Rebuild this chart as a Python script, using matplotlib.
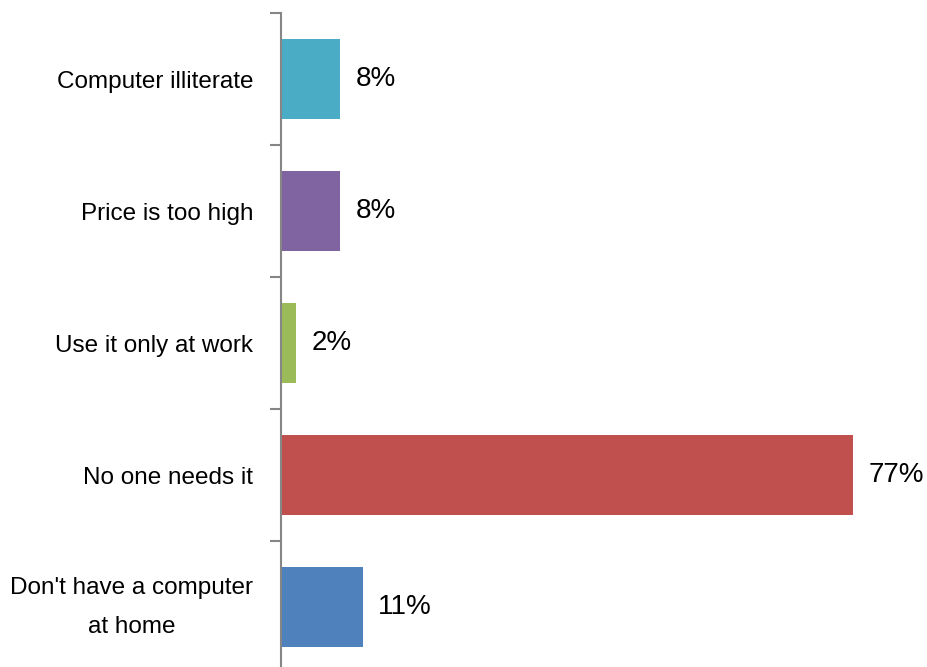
import matplotlib
matplotlib.use("Agg")
import matplotlib.pyplot as plt
from matplotlib import font_manager

# 窄体字优先，缺失时退回
names = {f.name for f in font_manager.fontManager.ttflist}
family = "Liberation Sans Narrow" if "Liberation Sans Narrow" in names else "Liberation Sans"
plt.rcParams["font.family"] = [family, "DejaVu Sans"]

categories = ["Computer illiterate", "Price is too high", "Use it only at work",
              "No one needs it", "Don't have a computer\nat home"]
values = [8, 8, 2, 77, 11]
labels = ["8%", "8%", "2%", "77%", "11%"]
colors = ["#4BACC6", "#8064A2", "#9BBB59", "#C0504D", "#4F81BD"]

fig = plt.figure(figsize=(9.28, 6.67), dpi=100)
ax = fig.add_axes([0.3028, -0.009, 0.6805, 0.9895])

pos = range(len(categories))
ax.barh(pos, values, height=0.6, color=colors)
for p, v, t in zip(pos, values, labels):
    ax.text(v + 2.1, p, t, va="center", ha="left", fontsize=20, color="black")

ax.set_xlim(0, 85)
ax.set_ylim(4.5, -0.5)
ax.set_yticks(list(pos))
ax.set_yticklabels(categories, fontsize=17.5, multialignment="center", linespacing=2.0)
for lab in ax.get_yticklabels():
    if "\n" in lab.get_text():
        lab.set_va("center")
ax.set_yticks([i - 0.5 for i in range(len(categories) + 1)], minor=True)
ax.tick_params(axis="y", which="major", length=0, pad=20)
ax.tick_params(axis="y", which="minor", length=8, width=1.5, color="#868686")
ax.set_xticks([])
for s in ["top", "right", "bottom"]:
    ax.spines[s].set_visible(False)
ax.spines["left"].set_color("#868686")
ax.spines["left"].set_linewidth(1.5)

fig.savefig("out.png", dpi=100)
